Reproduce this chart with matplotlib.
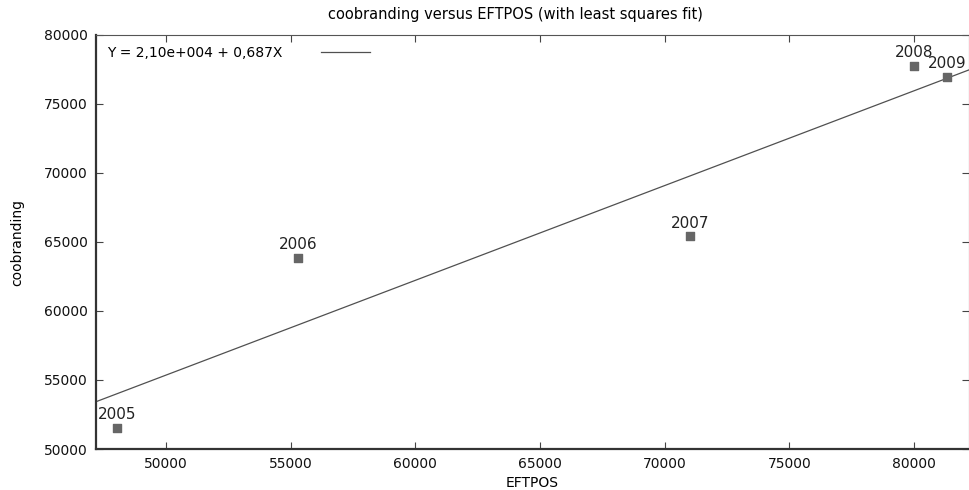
import numpy as np
import matplotlib
matplotlib.use("Agg")
import matplotlib.pyplot as plt

# ── data ──
years = ["2005", "2006", "2007", "2008", "2009"]
eftpos = [48040, 55290, 71020, 80000, 81320]
coobranding = [51520, 63840, 65430, 77750, 76960]

# least squares coefficients as printed in the legend
intercept = 2.10e4
slope = 0.687

xlim = (47200, 82200)
ylim = (50000, 80000)

plt.rcParams["font.family"] = ["DejaVu Sans"]

fig = plt.figure(figsize=(9.69, 4.90), dpi=100)
ax = fig.add_axes([96 / 969, 1 - 449 / 490, 1 - 96 / 969, (449 - 35) / 490])

xs = np.linspace(*xlim, 200)
ax.plot(xs, intercept + slope * xs, color="#505050", lw=0.9,
        label="Y = 2,10e+004 + 0,687X")
ax.scatter(eftpos, coobranding, marker="s", s=40, color="#666666", zorder=3)

for yr, x, y in zip(years, eftpos, coobranding):
    ax.annotate(yr, xy=(x, y), xytext=(0, 4), textcoords="offset points",
                ha="center", va="bottom", fontsize=11, color="#222222")

ax.set_xlim(*xlim)
ax.set_ylim(*ylim)
ax.set_xticks(np.arange(50000, 80001, 5000))
ax.set_yticks(np.arange(50000, 80001, 5000))
ax.tick_params(direction="in", length=5, width=0.8, colors="#444444",
               labelcolor="#111111", labelsize=10, top=True, right=True, pad=6)

for side in ["left", "bottom"]:
    ax.spines[side].set_linewidth(1.6)
    ax.spines[side].set_color("#333333")
for side in ["top", "right"]:
    ax.spines[side].set_linewidth(0.8)
    ax.spines[side].set_color("#555555")

ax.set_xlabel("EFTPOS", fontsize=10, labelpad=3)
ax.set_ylabel("coobranding", fontsize=10, labelpad=14)
fig.text(515 / 969, 1 - 15 / 490, "coobranding versus EFTPOS (with least squares fit)",
         ha="center", va="center", fontsize=10.5)

leg = ax.legend(loc="upper left", frameon=False, fontsize=10, markerfirst=False,
                handlelength=3.5, borderaxespad=0.4, handletextpad=2.8)

fig.savefig("out.png", dpi=100)
